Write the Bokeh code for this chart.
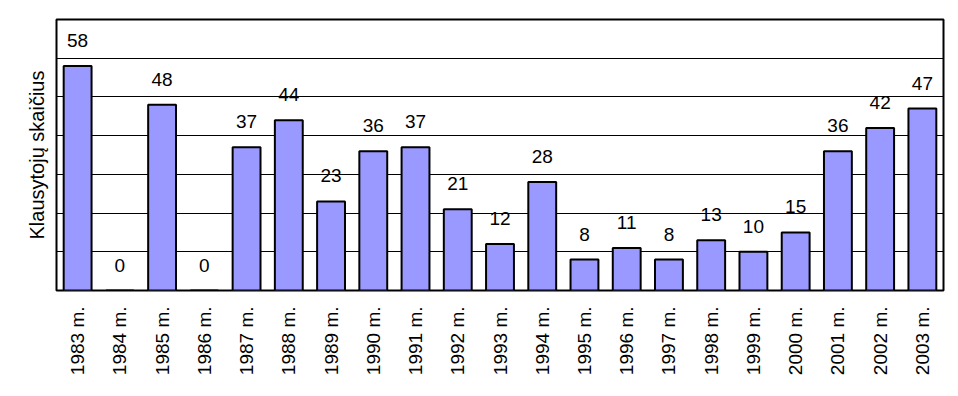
from bokeh.plotting import figure
from bokeh.models import ColumnDataSource, FactorRange, Range1d, FixedTicker, LabelSet
from bokeh.core.properties import value
from bokeh.embed import file_html
from bokeh.resources import INLINE
import math

years = ["1983 m.", "1984 m.", "1985 m.", "1986 m.", "1987 m.", "1988 m.", "1989 m.",
         "1990 m.", "1991 m.", "1992 m.", "1993 m.", "1994 m.", "1995 m.", "1996 m.",
         "1997 m.", "1998 m.", "1999 m.", "2000 m.", "2001 m.", "2002 m.", "2003 m."]
listeners = [58, 0, 48, 0, 37, 44, 23, 36, 37, 21, 12, 28, 8, 11, 8, 13, 10, 15, 36, 42, 47]
grid_values = [10, 20, 30, 40, 50, 60]
y_title = "Klausytojų skaičius"

FONT = "Liberation Sans"

src = ColumnDataSource(dict(x=years, y=listeners, label=[str(v) for v in listeners]))

p = figure(x_range=FactorRange(*years, range_padding=0), y_range=Range1d(0, 70),
           width=950, height=390, output_backend="svg", toolbar_location=None,
           min_border_left=56, min_border_right=7, min_border_top=19, min_border_bottom=100)

p.vbar(x="x", top="y", width=0.66, source=src, fill_color="#9999FF",
       line_color="black", line_width=2)

labels = LabelSet(x="x", y="y", text="label", source=src, text_align="center",
                  text_baseline="alphabetic", y_offset=19, text_font=value(FONT),
                  text_font_size=value("19px"), text_color="black")
p.add_layout(labels)

p.outline_line_color = "black"
p.outline_line_width = 2
p.outline_line_alpha = 1

p.xgrid.grid_line_color = None
p.ygrid.ticker = FixedTicker(ticks=grid_values)
p.ygrid.grid_line_color = "black"
p.ygrid.grid_line_width = 1
p.ygrid.grid_line_alpha = 1

p.yaxis.ticker = FixedTicker(ticks=[])
p.yaxis.axis_line_color = None
p.yaxis.major_tick_line_color = None
p.yaxis.minor_tick_line_color = None
p.yaxis.major_tick_out = 0
p.yaxis.axis_label = y_title
p.yaxis.axis_label_text_font = FONT
p.yaxis.axis_label_text_font_size = "20px"
p.yaxis.axis_label_text_font_style = "normal"
p.yaxis.axis_label_text_color = "black"
p.yaxis.axis_label_standoff = 9

p.xaxis.axis_line_color = None
p.xaxis.major_tick_line_color = None
p.xaxis.major_tick_out = 0
p.xaxis.major_label_orientation = math.pi / 2
p.xaxis.major_label_standoff = 16
p.xaxis.major_label_text_font = FONT
p.xaxis.major_label_text_font_size = "19px"
p.xaxis.major_label_text_color = "black"

p.background_fill_color = "white"
p.border_fill_color = "white"

open("out.html", "w").write(file_html(p, INLINE))
